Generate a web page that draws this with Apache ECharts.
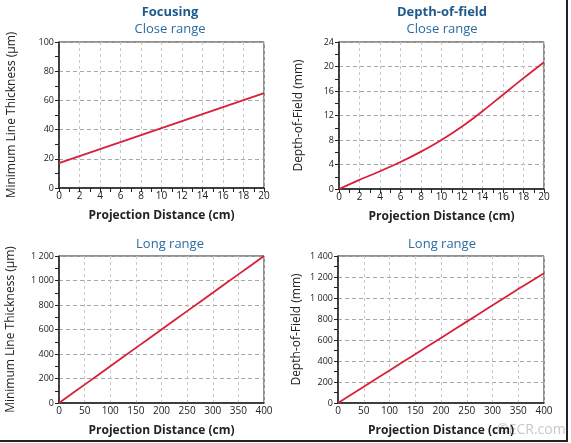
<!doctype html>
<html lang="en">
<head>
    <meta charset="UTF-8">
    <title>Focusing / Depth-of-field</title>
    <script src="https://cdn.jsdelivr.net/npm/echarts@6/dist/echarts.min.js"></script>
    <style>
        html, body { margin: 0; padding: 0; background: #fff; }
    </style>
</head>
<body>
    <div id="main" style="width: 571px;height:443px;"></div>
    <script>
        // close range, projection distance in cm
        var closeX = [0, 2, 4, 6, 8, 10, 12, 14, 16, 18, 20];
        var closeFocus = [17, 21.8, 26.6, 31.4, 36.2, 41, 45.8, 50.6, 55.4, 60.2, 65];
        var closeDof = [0, 1.5, 2.9, 4.4, 6.1, 8.0, 10.2, 12.7, 15.4, 18.1, 20.7];
        // long range, projection distance in cm
        var longX = [0, 50, 100, 150, 200, 250, 300, 350, 400];
        var longFocus = [0, 150, 300, 450, 600, 750, 900, 1050, 1200];
        var longDof = [0, 155, 310, 465, 620, 775, 930, 1085, 1235];

        var font = 'Open Sans';
        var red = '#d8203a';
        var blue = '#1d5a8c';

        function pairs(xs, ys) {
            return xs.map(function (x, i) { return [x, ys[i]]; });
        }
        function spaced(v) {
            return String(v).replace(/\B(?=(\d{3})+(?!\d))/g, ' ');
        }

        var grids = [
            {left: 59, top: 42, width: 205, height: 146},
            {left: 339, top: 42, width: 205, height: 147},
            {left: 59, top: 256, width: 205, height: 147},
            {left: 338, top: 256, width: 206, height: 147}
        ];
        grids.forEach(function (g) {
            g.show = true;
            g.borderColor = '#222';
            g.borderWidth = 1;
            g.backgroundColor = 'transparent';
        });

        function xAxis(idx, max, interval, ticks) {
            return {
                type: 'value', gridIndex: idx, min: 0, max: max, interval: interval,
                name: 'Projection Distance (cm)', nameLocation: 'middle', nameGap: 22,
                nameTextStyle: {fontFamily: font, fontSize: 12, fontWeight: 'bold', color: '#222'},
                axisLine: {show: true, lineStyle: {color: '#222', width: 1.5}},
                axisTick: {show: ticks, length: 4, lineStyle: {color: '#222'}},
                minorTick: {show: ticks, splitNumber: 2, length: 4, lineStyle: {color: '#222'}},
                axisLabel: {fontFamily: font, fontSize: 10, color: '#222', margin: 3},
                splitLine: {show: true, lineStyle: {color: '#c8c8c8', type: [3, 3]}}
            };
        }
        function yAxis(idx, max, interval, name, gap) {
            return {
                type: 'value', gridIndex: idx, min: 0, max: max, interval: interval,
                name: name, nameLocation: 'middle', nameGap: gap,
                nameTextStyle: {fontFamily: font, fontSize: 12, fontWeight: 500, color: '#222'},
                axisLine: {show: true, lineStyle: {color: '#222', width: 1.5}},
                axisTick: {show: true, length: 4, lineStyle: {color: '#222'}},
                minorTick: {show: true, splitNumber: 2, length: 4, lineStyle: {color: '#222'}},
                axisLabel: {fontFamily: font, fontSize: 9, color: '#222', margin: 5, formatter: spaced},
                splitLine: {show: true, lineStyle: {color: '#a8a8a8', type: [4, 3]}}
            };
        }
        function lineSeries(idx, data) {
            return {
                type: 'line', xAxisIndex: idx, yAxisIndex: idx, data: data,
                smooth: 0.3, symbol: 'none', animation: false,
                lineStyle: {color: red, width: 1.8}
            };
        }

        var myChart = echarts.init(document.getElementById('main'));
        myChart.setOption({
            backgroundColor: '#fff',
            animation: false,
            title: [
                {text: 'Focusing', left: 165, top: 1, textAlign: 'center',
                    textStyle: {fontFamily: font, fontSize: 13, fontWeight: 'bold', color: blue}},
                {text: 'Close range', left: 165, top: 18, textAlign: 'center',
                    textStyle: {fontFamily: font, fontSize: 13, fontWeight: 'normal', color: '#2a6da3'}},
                {text: 'Depth-of-field', left: 437, top: 1, textAlign: 'center',
                    textStyle: {fontFamily: font, fontSize: 13, fontWeight: 'bold', color: blue}},
                {text: 'Close range', left: 437, top: 18, textAlign: 'center',
                    textStyle: {fontFamily: font, fontSize: 13, fontWeight: 'normal', color: '#2a6da3'}},
                {text: 'Long range', left: 165, top: 233, textAlign: 'center',
                    textStyle: {fontFamily: font, fontSize: 13, fontWeight: 'normal', color: '#2a6da3'}},
                {text: 'Long range', left: 437, top: 233, textAlign: 'center',
                    textStyle: {fontFamily: font, fontSize: 13, fontWeight: 'normal', color: '#2a6da3'}}
            ],
            grid: grids,
            xAxis: [
                xAxis(0, 20, 2, true),
                xAxis(1, 20, 2, true),
                xAxis(2, 400, 50, false),
                xAxis(3, 400, 50, false)
            ],
            yAxis: [
                yAxis(0, 100, 20, 'Minimum Line Thickness (\u00b5m)', 41),
                yAxis(1, 24, 4, 'Depth-of-Field (mm)', 34),
                yAxis(2, 1200, 200, 'Minimum Line Thickness (\u00b5m)', 42),
                yAxis(3, 1400, 200, 'Depth-of-Field (mm)', 35)
            ],
            series: [
                lineSeries(0, pairs(closeX, closeFocus)),
                lineSeries(1, pairs(closeX, closeDof)),
                lineSeries(2, pairs(longX, longFocus)),
                lineSeries(3, pairs(longX, longDof))
            ],
            graphic: [
                {type: 'line', shape: {x1: 567, y1: 0, x2: 567, y2: 441}, style: {stroke: '#222', lineWidth: 2}},
                {type: 'line', shape: {x1: 0, y1: 441, x2: 568, y2: 441}, style: {stroke: '#222', lineWidth: 2}},
                {type: 'text', left: 497, top: 423, style: {text: '\u00a9ECR.com', fontFamily: font, fontSize: 14, fill: '#c8c8c8'}}
            ]
        });
    </script>
</body>
</html>
